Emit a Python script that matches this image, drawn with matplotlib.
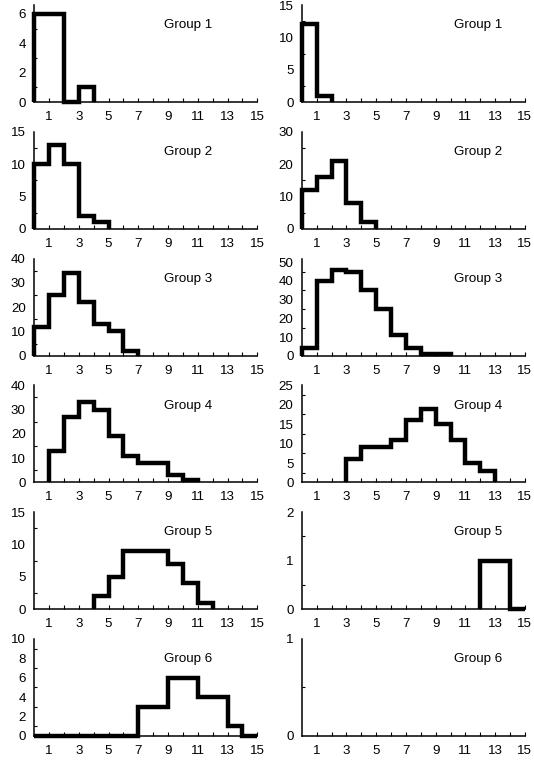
import numpy as np
import matplotlib
matplotlib.use("Agg")
import matplotlib.pyplot as plt
from matplotlib.ticker import AutoMinorLocator

plt.rcParams['font.family'] = ['Liberation Sans', 'DejaVu Sans']
plt.rcParams['font.size'] = 9.6

nan = np.nan

# bin counts for bins 1..15 (edges 0..15), nan = nothing drawn
left_g1 = [6, 6, 0, 1] + [nan] * 11
left_g2 = [10, 13, 10, 2, 1] + [nan] * 10
left_g3 = [12, 25, 34, 22, 13, 10, 2] + [nan] * 8
left_g4 = [nan, 13, 27, 33, 30, 19, 11, 8, 8, 3, 1] + [nan] * 4
left_g5 = [nan] * 4 + [2, 5, 9, 9, 9, 7, 4, 1] + [nan] * 3
left_g6 = [0, 0, 0, 0, 0, 0, 0, 3, 3, 6, 6, 4, 4, 1, 0]

right_g1 = [12, 1] + [nan] * 13
right_g2 = [12, 16, 21, 8, 2] + [nan] * 10
right_g3 = [4, 40, 46, 45, 35, 25, 11, 4, 1, 1] + [nan] * 5
right_g4 = [nan] * 3 + [6, 9, 9, 11, 16, 19, 15, 11, 5, 3] + [nan] * 2
right_g5 = [nan] * 12 + [1, 1, 0]
right_g6 = [nan] * 15

left_data = [left_g1, left_g2, left_g3, left_g4, left_g5, left_g6]
right_data = [right_g1, right_g2, right_g3, right_g4, right_g5, right_g6]

left_ylim = [6.6, 15, 40, 40, 15, 10]
right_ylim = [15, 30, 52, 25, 2, 1]
left_yticks = [[0, 2, 4, 6], [0, 5, 10, 15], [0, 10, 20, 30, 40],
               [0, 10, 20, 30, 40], [0, 5, 10, 15], [0, 2, 4, 6, 8, 10]]
right_yticks = [[0, 5, 10, 15], [0, 10, 20, 30], [0, 10, 20, 30, 40, 50],
                [0, 5, 10, 15, 20, 25], [0, 1, 2], [0, 1]]

group_names = ["Group 1", "Group 2", "Group 3", "Group 4", "Group 5", "Group 6"]
x_ticks = list(range(1, 16))
x_ticklabels = [str(t) if t % 2 == 1 else "" for t in x_ticks]

fig, axes = plt.subplots(6, 2, figsize=(5.34, 7.63), dpi=100)
fig.subplots_adjust(left=0.064, right=0.983, top=0.9934, bottom=0.0354,
                    wspace=0.20, hspace=0.305)


def draw_panel(ax, counts, ymax, yticks, name, text_x):
    counts = np.array(counts, dtype=float)
    idx = np.where(~np.isnan(counts))[0]
    if len(idx) > 0:
        first, last = idx[0], idx[-1]
        edges = np.arange(first, last + 2)
        ax.stairs(counts[first:last + 1], edges, baseline=0, fill=False,
                  color='black', linewidth=3.2, clip_on=False,
                  joinstyle='miter')
    ax.set_xlim(0, 15)
    ax.set_ylim(0, ymax)
    ax.set_xticks(x_ticks)
    ax.set_xticklabels(x_ticklabels)
    ax.set_yticks(yticks)
    ax.yaxis.set_minor_locator(AutoMinorLocator(2))
    ax.tick_params(axis='x', direction='in', length=3, width=0.8, pad=6.5)
    ax.tick_params(axis='y', direction='in', length=0, width=0.8, pad=6)
    ax.tick_params(axis='y', which='minor', direction='in', length=2, width=0.8)
    for s in ['top', 'right']:
        ax.spines[s].set_visible(False)
    for s in ['left', 'bottom']:
        ax.spines[s].set_linewidth(1.1)
    ax.text(text_x, 0.79, name, transform=ax.transAxes, fontsize=9.6,
            va='center', ha='left')


for i in range(6):
    draw_panel(axes[i, 0], left_data[i], left_ylim[i], left_yticks[i],
               group_names[i], 0.58)
    draw_panel(axes[i, 1], right_data[i], right_ylim[i], right_yticks[i],
               group_names[i], 0.68)

fig.savefig("out.png", dpi=100)
